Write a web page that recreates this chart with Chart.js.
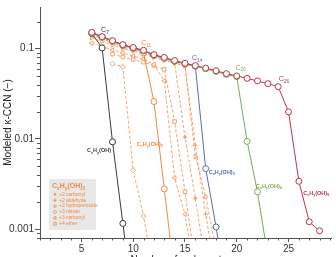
<!DOCTYPE html>
<html lang="en">
<head>
<meta charset="UTF-8">
<title>Modeled kappa-CCN</title>
<script src="https://cdn.jsdelivr.net/npm/chart.js"></script>
<style>
  html, body { margin: 0; padding: 0; background: #fff; }
</style>
</head>
<body>
<canvas id="myChart" width="336" height="257"></canvas>
<script>
// carbon numbers, values below start at C6
const carbons = [6, 7, 8, 9, 10, 11, 12, 13, 14, 15, 16, 17, 18, 19, 20, 21, 22, 23, 24, 25, 26, 27, 28];

// CxHy(OH)n series
const oh1 = [0.148, 0.102, 0.0093, 0.00116, 0.00015];
const oh2 = [0.149, 0.134, 0.121, 0.109, 0.101, 0.090, 0.026, 0.0028, 0.0003];
const oh3 = [0.150, 0.135, 0.122, 0.110, 0.102, 0.095, 0.085, 0.079, 0.073, 0.068, 0.064, 0.0047, 0.00106, 0.0002];
const oh4 = [0.151, 0.135, 0.122, 0.110, 0.102, 0.095, 0.085, 0.079, 0.073, 0.068, 0.064, 0.060, 0.056, 0.052, 0.049, 0.0094, 0.0026, 0.0005];
const oh5 = [0.152, 0.136, 0.123, 0.111, 0.103, 0.096, 0.086, 0.080, 0.074, 0.069, 0.065, 0.061, 0.057, 0.053, 0.050, 0.047, 0.044, 0.041, 0.038, 0.020, 0.0034, 0.00121, 0.00096];

// functionalised CxHy(OH)2 (dashed)
const carbonyl2 = [0.144, 0.130, 0.117, 0.106, 0.098, 0.091, 0.083, 0.077, 0.069, 0.0105, 0.0022, 0.0004];
const aldehyde2 = [0.141, 0.128, 0.116, 0.105, 0.097, 0.090, 0.082, 0.076, 0.070, 0.065, 0.0085, 0.00147, 0.0003];
const hydroperox2 = [0.132, 0.120, 0.110, 0.101, 0.094, 0.087, 0.080, 0.074, 0.069, 0.064, 0.0064, 0.0023, 0.0006];
const nitrate3 = [null, null, 0.068, 0.063, 0.0045, 0.0014, 0.0003];
const carbonyl3 = [0.115, 0.106, 0.097, 0.090, 0.083, 0.077, 0.067, 0.044, 0.0037, 0.00146, 0.0003];
const ether4 = [null, null, 0.087, 0.081, 0.076, 0.071, 0.065, 0.059, 0.0156, 0.0026, 0.0004];

const xTicks = [5, 10, 15, 20, 25];
const yTicks = [0.001, 0.01, 0.1];

const legendNames = ['+2 carbonyl', '+2 aldehyde', '+2 hydroperoxide', '+3 nitrate', '+3 carbonyl', '+4 ether'];

// labels on the curves: [parts, x, y, colour]
const carbonLabels = [
    [[['C', 0], ['7', 1]], 7.27, 0.163, '#3a3a3a'],
    [[['C', 0], ['11', 1]], 11.26, 0.1175, '#ef8a3e'],
    [[['C', 0], ['14', 1]], 16.17, 0.080, '#5a6bb0'],
    [[['C', 0], ['20', 1]], 20.37, 0.0623, '#7aaa55'],
    [[['C', 0], ['26', 1]], 24.55, 0.0465, '#b8374a'],
];
const familyLabels = [
    ['', 6.7, 0.00745, '#3a3a3a'],
    ['2', 11.6, 0.00887, '#ef8a3e'],
    ['3', 18.55, 0.00432, '#5a6bb0'],
    ['4', 23.1, 0.00304, '#7aaa55'],
    ['5', 27.67, 0.00251, '#b8374a'],
];

const axisCol = '#555';
const dashCol = '#f2a36e';

Chart.defaults.font.family = '"Liberation Sans", Arial, Helvetica, sans-serif';

function pts(vals) {
    return vals.map((v, i) => v == null ? null : { x: carbons[i], y: v }).filter(p => p);
}

function solid(label, vals, color, order) {
    return {
        label: label, data: pts(vals), order: order,
        borderColor: color, borderWidth: 1, tension: 0,
        pointRadius: 3, pointBorderWidth: 1,
        pointBorderColor: color, pointBackgroundColor: '#fff'
    };
}

function dashed(label, vals, style, rot, filled, order) {
    return {
        label: label, data: pts(vals), order: order,
        borderColor: dashCol, borderWidth: 1, borderDash: [3, 2], tension: 0,
        pointStyle: style, pointRotation: rot,
        pointRadius: filled ? 1.3 : 2.5, pointBorderWidth: 1,
        pointBorderColor: dashCol, pointBackgroundColor: filled ? dashCol : '#fff'
    };
}

function drawFormula(ctx, parts, x, y, size, color, bold, align) {
    const big = (bold ? 'bold ' : '') + size + 'px "Liberation Sans", Arial, sans-serif';
    const small = (bold ? 'bold ' : '') + (size * 0.68).toFixed(1) + 'px "Liberation Sans", Arial, sans-serif';
    let w = 0;
    parts.forEach(p => { ctx.font = p[1] ? small : big; w += ctx.measureText(p[0]).width; });
    let cx = align === 'left' ? x : x - w / 2;
    ctx.fillStyle = color;
    ctx.textBaseline = 'alphabetic';
    ctx.textAlign = 'left';
    parts.forEach(p => {
        ctx.font = p[1] ? small : big;
        ctx.fillText(p[0], cx, y + (p[1] ? size * 0.25 : 0) + size * 0.35);
        cx += ctx.measureText(p[0]).width;
    });
}

function family(n) {
    const parts = [['C', 0], ['x', 1], ['H', 0], ['y', 1], ['(OH)', 0]];
    if (n) parts.push([n, 1]);
    return parts;
}

const decor = {
    id: 'decor',
    afterDraw(chart) {
        const { ctx, chartArea: a, scales: { x, y } } = chart;
        ctx.save();
        // minor ticks
        ctx.strokeStyle = axisCol;
        ctx.lineWidth = 1;
        ctx.beginPath();
        for (let c = 1; c <= 29; c++) {
            if (c % 5 === 0) continue;
            const px = Math.round(x.getPixelForValue(c)) + 0.5;
            ctx.moveTo(px, a.bottom);
            ctx.lineTo(px, a.bottom + 2.5);
        }
        for (let e = -4; e < 0; e++) {
            for (let k = 2; k < 10; k++) {
                const v = k * Math.pow(10, e);
                if (v < y.min || v > y.max) continue;
                const py = Math.round(y.getPixelForValue(v)) + 0.5;
                ctx.moveTo(a.left, py);
                ctx.lineTo(a.left - 3, py);
            }
        }
        ctx.stroke();

        // curve labels
        carbonLabels.forEach(l => {
            drawFormula(ctx, l[0], x.getPixelForValue(l[1]), y.getPixelForValue(l[2]), 7, l[3], false);
        });
        familyLabels.forEach(l => {
            drawFormula(ctx, family(l[0]), x.getPixelForValue(l[1]), y.getPixelForValue(l[2]), 5.5, l[3], true);
        });

        // legend box
        const bx = a.left + 9, by = 179, bw = 47, bh = 51;
        ctx.fillStyle = '#e8e8e8';
        ctx.fillRect(bx, by, bw, bh);
        drawFormula(ctx, family('2'), bx + 3, by + 7, 7, '#ef8a3e', true, 'left');
        const styles = [['circle', 0, true], ['cross', 0, false], ['triangle', 90, false], ['rectRot', 0, false], ['triangle', -90, false], ['rect', 0, false]];
        legendNames.forEach((name, i) => {
            const ly = by + 15.3 + i * 5.9;
            const s = styles[i];
            ctx.strokeStyle = '#ef8a3e';
            ctx.fillStyle = s[2] ? '#ef8a3e' : '#e8e8e8';
            ctx.lineWidth = 0.8;
            Chart.helpers.drawPoint(ctx, { pointStyle: s[0], rotation: s[1], radius: s[2] ? 0.9 : 1.8, borderWidth: 0.8 }, bx + 6, ly);
            ctx.fillStyle = '#ef8a3e';
            ctx.font = '5px "Liberation Sans", Arial, sans-serif';
            ctx.textAlign = 'left';
            ctx.textBaseline = 'middle';
            ctx.fillText(name, bx + 10, ly);
        });
        ctx.restore();
    }
};

const ctx = document.getElementById('myChart').getContext('2d');
new Chart(ctx, {
    type: 'line',
    data: {
        datasets: [
            solid('CxHy(OH)5', oh5, '#b8374a', 0),
            solid('CxHy(OH)4', oh4, '#7aaa55', 1),
            solid('CxHy(OH)3', oh3, '#5a6bb0', 2),
            solid('CxHy(OH)2', oh2, '#ef8a3e', 3),
            solid('CxHy(OH)', oh1, '#3a3a3a', 4),
            dashed('+2 carbonyl', carbonyl2, 'circle', 0, true, 5),
            dashed('+2 aldehyde', aldehyde2, 'cross', 0, false, 6),
            dashed('+2 hydroperoxide', hydroperox2, 'triangle', 90, false, 7),
            dashed('+3 nitrate', nitrate3, 'rectRot', 0, false, 8),
            dashed('+3 carbonyl', carbonyl3, 'triangle', -90, false, 9),
            dashed('+4 ether', ether4, 'rect', 0, false, 10)
        ]
    },
    options: {
        responsive: false,
        animation: false,
        layout: { padding: { top: 3, right: 0, left: 0, bottom: 0 } },
        plugins: { legend: { display: false }, tooltip: { enabled: false } },
        scales: {
            x: {
                type: 'linear',
                min: 1,
                max: 29.1,
                afterBuildTicks: s => { s.ticks = xTicks.map(v => ({ value: v })); },
                afterFit: s => { s.height = 19; },
                grid: { drawOnChartArea: false, drawTicks: true, tickLength: 4, color: axisCol },
                border: { color: axisCol },
                ticks: { padding: 1, color: '#333', font: { size: 10 }, maxRotation: 0, autoSkip: false },
                title: { display: true, text: 'Number of carbon atoms', color: '#222', font: { size: 10 }, padding: { top: 0, bottom: -9 } }
            },
            y: {
                type: 'logarithmic',
                min: 0.0008,
                max: 0.29,
                afterBuildTicks: s => { s.ticks = yTicks.map(v => ({ value: v })); },
                afterFit: s => { s.width = 40; },
                grid: { drawOnChartArea: false, drawTicks: true, tickLength: 5, color: axisCol },
                border: { color: axisCol },
                ticks: { padding: 1, color: '#333', font: { size: 10 }, autoSkip: false, callback: v => String(v) },
                title: { display: true, text: 'Modeled κ-CCN (−)', color: '#222', font: { size: 10 }, padding: { top: 2, bottom: 0 } }
            }
        }
    },
    plugins: [decor]
});
</script>
</body>
</html>
